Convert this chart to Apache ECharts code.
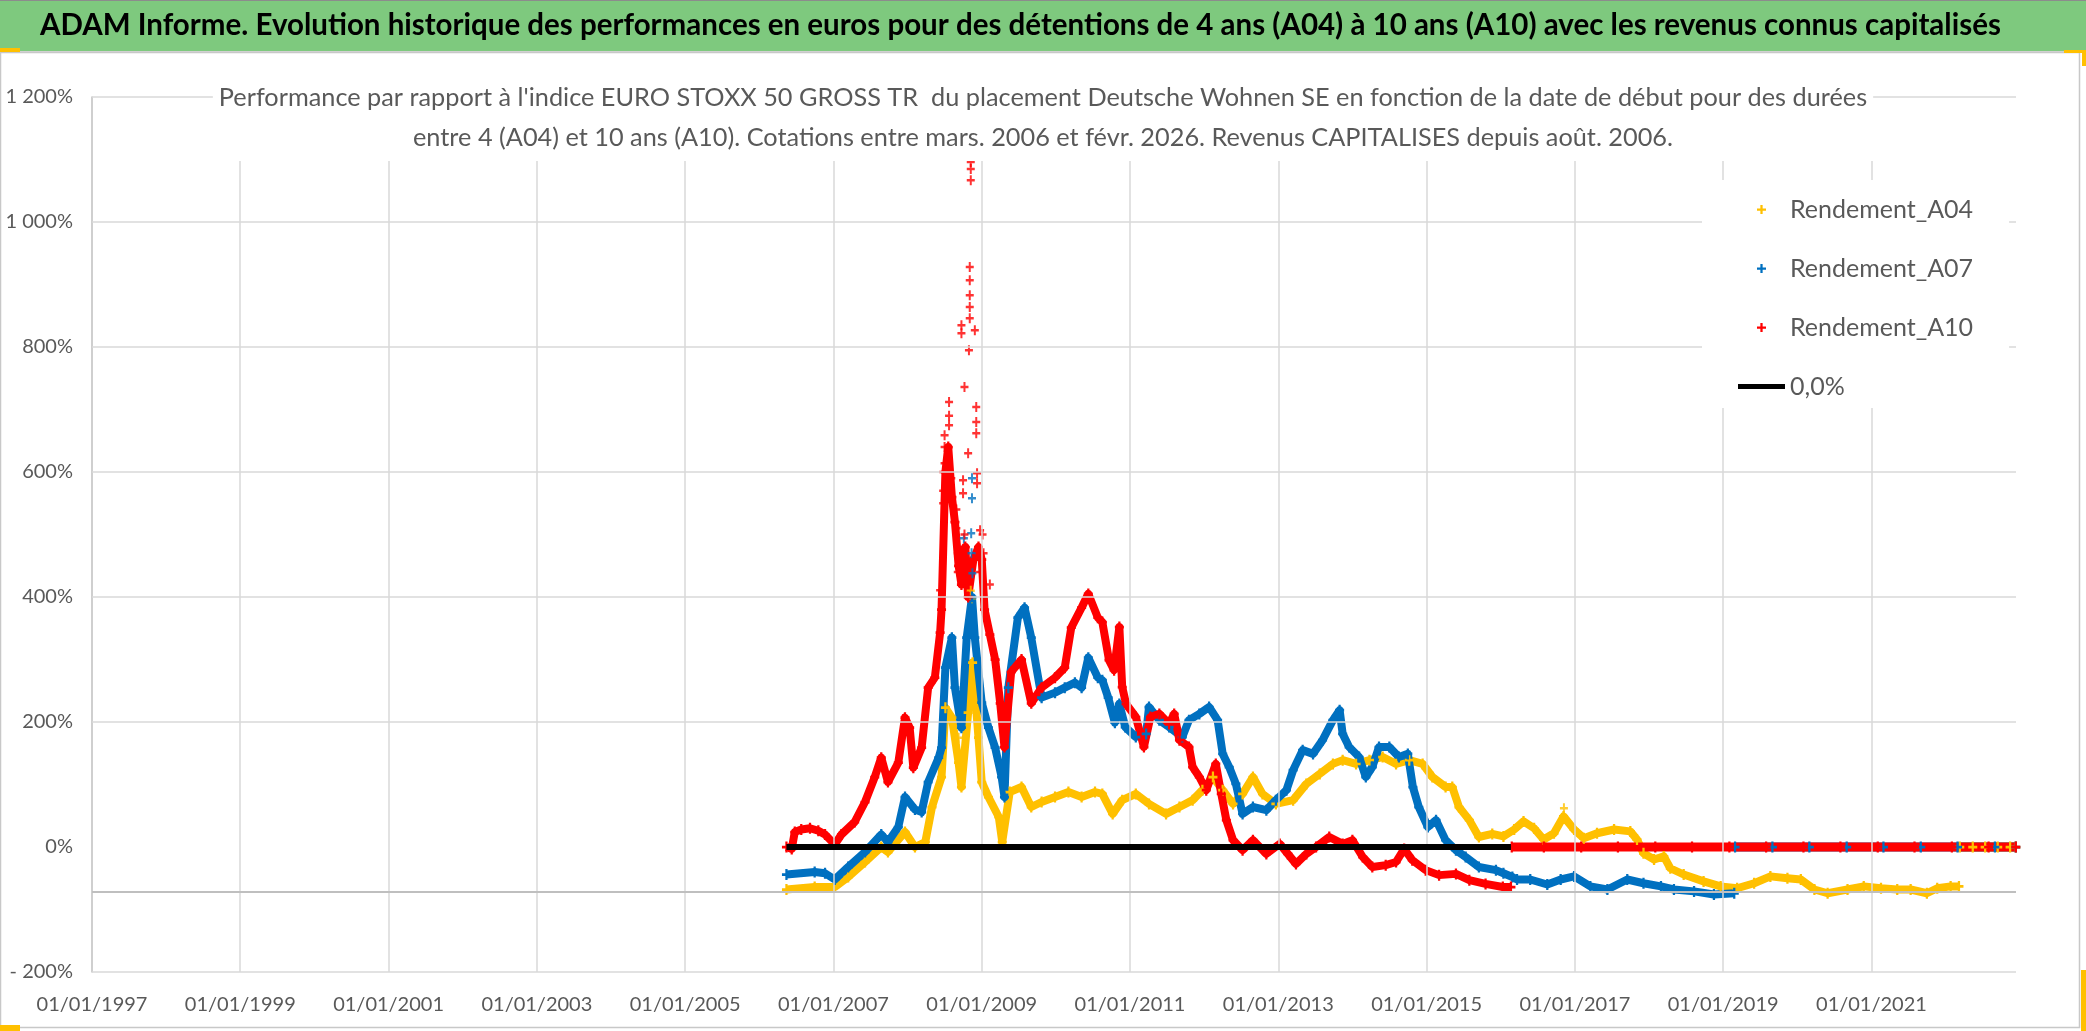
<!DOCTYPE html>
<html><head><meta charset="utf-8">
<script src="https://cdn.jsdelivr.net/npm/echarts@6/dist/echarts.min.js"></script>
<style>html,body{margin:0;padding:0;background:#fff}#c{width:2086px;height:1031px}</style>
</head><body><div id="c"></div>
<script>
const FONT = "Lato,'Liberation Sans',sans-serif";
const mainTitle = "ADAM Informe. Evolution historique des performances en euros pour des détentions de 4 ans (A04) à 10 ans (A10) avec les revenus connus capitalisés";
const subTitleLines = [
  "Performance par rapport à l'indice EURO STOXX 50 GROSS TR  du placement Deutsche Wohnen SE en fonction de la date de début pour des durées",
  "entre 4 (A04) et 10 ans (A10). Cotations entre mars. 2006 et févr. 2026. Revenus CAPITALISES depuis août. 2006."
];
const seriesNames = ['Rendement_A04', 'Rendement_A07', 'Rendement_A10', '0,0%'];
const seriesColors = ['#FFC000', '#0070C0', '#FF0000', '#000000'];
const xTickLabels = ['01/01/1997','01/01/1999','01/01/2001','01/01/2003','01/01/2005','01/01/2007','01/01/2009','01/01/2011','01/01/2013','01/01/2015','01/01/2017','01/01/2019','01/01/2021'];
const xRange = ['1997-01-01', '2022-12-14'];
const yMin = -200, yMax = 1200, yStep = 200;
const yGridValues = [-200, 200, 400, 600, 800, 1000, 1200];
const xAxisCrossValue = -72;

// Rendement_A04 (yellow)
const a04Band = [
 ['2006-05-15',-68],['2006-10-01',-64],['2007-01-08',-64],['2007-03-15',-48],['2007-06-06',-24],
 ['2007-08-25',0],['2007-09-27',-8],['2007-12-20',24],['2008-02-07',0],['2008-03-29',8],
 ['2008-05-01',64],['2008-06-17',112],['2008-07-06',223],['2008-08-07',207],['2008-09-09',135],
 ['2008-09-23',96],['2008-10-26',215],['2008-11-17',295],['2008-12-16',175],['2009-01-01',104],
 ['2009-02-03',80],['2009-03-26',48],['2009-04-12',8],['2009-05-19',88],['2009-07-16',96],
 ['2009-09-02',64],['2009-10-23',72],['2009-12-28',80],['2010-03-04',88],['2010-05-08',80],
 ['2010-07-13',88],['2010-08-18',85],['2010-10-08',53],['2010-11-24',75],['2011-01-30',85],
 ['2011-04-05',69],['2011-06-28',53],['2011-09-02',64],['2011-11-06',75],['2011-12-24',91],
 ['2012-02-14',112],['2012-04-02',91],['2012-05-23',69],['2012-07-09',85],['2012-08-29',112],
 ['2012-10-15',85],['2012-12-20',69],['2013-03-15',75],['2013-05-19',101],['2013-07-24',117],
 ['2013-09-27',133],['2013-11-14',139],['2014-01-19',133],['2014-03-26',139],['2014-05-30',144],
 ['2014-08-04',133],['2014-10-08',139],['2014-12-13',133],['2015-01-30',112],['2015-04-05',96],
 ['2015-05-08',96],['2015-06-10',64],['2015-07-31',43],['2015-09-16',16],['2015-11-21',21],
 ['2016-01-15',17],['2016-03-08',28],['2016-04-23',41],['2016-06-14',30],['2016-07-31',12],
 ['2016-09-20',22],['2016-11-06',49],['2016-12-28',28],['2017-02-14',14],['2017-04-20',22],
 ['2017-07-13',28],['2017-10-01',25],['2017-11-03',12],['2017-12-05',-10],['2018-01-26',-20],
 ['2018-03-15',-15],['2018-04-16',-34],['2018-06-21',-44],['2018-09-27',-55],['2018-12-20',-63],
 ['2019-03-11',-66],['2019-06-03',-58],['2019-08-22',-47],['2019-11-14',-50],['2020-01-19',-52],
 ['2020-03-26',-68],['2020-05-30',-74],['2020-09-05',-68],['2020-11-24',-63],['2021-02-17',-66],
 ['2021-05-08',-68],['2021-07-13',-68],['2021-10-01',-74],['2021-11-21',-66],['2022-01-26',-63],
 ['2022-03-08',-63]
];
const a04Points = [['2008-11-14',398],['2008-11-08',410],['2008-09-09',175],['2016-11-08',62]];
const a04Zero = [['2022-03-12',0],['2022-05-15',0],['2022-07-15',0],['2022-09-15',0],['2022-11-15',0],['2022-12-13',0]];

// Rendement_A07 (blue)
const a07Band = [
 ['2006-05-15',-44],['2006-10-01',-40],['2006-11-21',-42],['2007-01-08',-52],['2007-03-15',-32],
 ['2007-06-06',-8],['2007-08-25',20],['2007-09-27',8],['2007-11-17',32],['2007-12-20',80],
 ['2008-02-07',60],['2008-03-11',56],['2008-04-12',104],['2008-06-03',143],['2008-06-17',159],
 ['2008-07-06',287],['2008-08-07',335],['2008-08-22',255],['2008-09-23',191],['2008-10-19',335],
 ['2008-11-14',400],['2008-11-28',335],['2009-01-01',231],['2009-02-03',191],['2009-03-08',159],
 ['2009-04-09',112],['2009-04-23',80],['2009-05-12',255],['2009-06-28',367],['2009-07-31',383],
 ['2009-09-02',335],['2009-10-23',239],['2009-12-28',247],['2010-02-14',255],['2010-04-05',263],
 ['2010-05-08',255],['2010-06-10',303],['2010-07-27',271],['2010-08-18',267],['2010-09-16',239],
 ['2010-10-19',199],['2010-11-10',229],['2010-12-09',192],['2011-01-30',176],['2011-03-22',181],
 ['2011-04-05',224],['2011-05-26',203],['2011-07-13',192],['2011-09-16',176],['2011-10-19',203],
 ['2011-12-09',213],['2012-01-26',224],['2012-03-08',203],['2012-04-02',149],['2012-05-04',128],
 ['2012-06-06',101],['2012-07-09',53],['2012-08-29',64],['2012-11-03',59],['2012-12-20',75],
 ['2013-02-10',91],['2013-03-15',123],['2013-05-01',155],['2013-06-21',149],['2013-08-07',171],
 ['2013-09-27',203],['2013-10-30',219],['2013-11-14',181],['2013-12-16',160],['2014-02-03',144],
 ['2014-03-08',112],['2014-04-09',128],['2014-05-12',160],['2014-07-02',160],['2014-08-18',144],
 ['2014-10-01',149],['2014-10-26',96],['2014-11-24',64],['2015-01-08',32],['2015-02-17',43],
 ['2015-04-05',11],['2015-05-26',-5],['2015-07-13',-16],['2015-09-16',-32],['2015-12-09',-37],
 ['2016-01-15',-42],['2016-02-28',-48],['2016-03-22',-52],['2016-05-26',-52],['2016-08-18',-60],
 ['2016-10-23',-52],['2016-12-28',-47],['2017-03-18',-63],['2017-06-10',-68],['2017-09-16',-52],
 ['2017-12-05',-58],['2018-03-01',-63],['2018-05-04',-68],['2018-08-11',-71],['2018-11-17',-76],
 ['2019-02-25',-74]
];
const a07Points = [['2008-11-14',590],['2008-11-14',558],['2008-11-10',502],['2008-11-12',470],['2008-11-16',438],['2008-10-05',494]];
const a07Zero = [['2019-03-01',0],['2019-09-01',0],['2020-03-01',0],['2020-09-01',0],['2021-03-01',0],['2021-09-01',0],['2022-03-01',0],['2022-09-01',0],['2022-12-13',0]];

// Rendement_A10 (red)
const a10Band = [
 ['2006-05-15',0],['2006-06-10',-3],['2006-06-25',24],['2006-07-27',28],['2006-09-08',30],
 ['2006-10-19',26],['2006-11-21',20],['2007-01-08',4],['2007-02-10',20],['2007-04-16',40],
 ['2007-06-06',72],['2007-07-24',112],['2007-08-25',143],['2007-09-27',104],['2007-11-17',135],
 ['2007-12-20',207],['2008-01-12',191],['2008-01-30',127],['2008-03-11',159],['2008-04-12',255],
 ['2008-05-15',271],['2008-06-10',343],['2008-06-17',380],['2008-07-06',600],['2008-07-20',640],
 ['2008-08-07',560],['2008-08-22',520],['2008-09-09',450],['2008-09-23',420],['2008-10-12',480],
 ['2008-10-26',400],['2008-11-21',460],['2008-12-16',480],['2009-01-01',460],['2009-01-15',380],
 ['2009-02-10',340],['2009-03-08',300],['2009-04-02',230],['2009-04-23',160],['2009-05-26',280],
 ['2009-07-16',300],['2009-09-02',230],['2009-10-23',255],['2009-12-28',271],['2010-02-14',287],
 ['2010-03-18',351],['2010-05-08',383],['2010-06-10',405],['2010-07-27',367],['2010-08-18',360],
 ['2010-09-20',299],['2010-10-15',283],['2010-11-10',352],['2010-11-24',256],['2010-12-13',229],
 ['2011-01-30',208],['2011-03-11',160],['2011-04-12',208],['2011-05-26',213],['2011-07-13',197],
 ['2011-08-07',213],['2011-09-02',171],['2011-10-19',160],['2011-11-06',128],['2011-12-09',112],
 ['2012-01-12',91],['2012-02-28',133],['2012-03-26',85],['2012-04-20',43],['2012-05-23',11],
 ['2012-07-09',-5],['2012-08-29',11],['2012-11-03',-11],['2013-01-08',5],['2013-02-17',-11],
 ['2013-03-29',-27],['2013-05-19',-11],['2013-07-06',0],['2013-09-09',16],['2013-11-14',5],
 ['2014-01-01',11],['2014-02-21',-16],['2014-04-09',-32],['2014-06-14',-29],['2014-08-04',-24],
 ['2014-09-13',-3],['2014-10-23',-21],['2014-12-28',-37],['2015-03-04',-45],['2015-05-26',-43],
 ['2015-07-31',-53],['2015-10-19',-59],['2016-01-12',-64],['2016-02-21',-64]
];
const a10Points = [
 ['2008-11-08',1096],['2008-11-08',1085],['2008-11-08',1067],['2008-11-03',928],['2008-11-03',907],
 ['2008-11-03',883],['2008-11-03',864],['2008-11-03',846],['2008-09-23',835],['2008-09-23',822],
 ['2008-11-28',827],['2008-10-30',795],['2008-10-08',736],['2008-07-24',712],['2008-07-24',690],
 ['2008-07-24',675],['2008-12-05',704],['2008-12-05',680],['2008-12-05',662],['2008-07-02',659],
 ['2008-07-02',640],['2008-07-02',614],['2008-10-26',630],['2008-06-25',600],['2008-06-25',570],
 ['2008-06-25',550],['2008-08-04',590],['2008-08-04',560],['2008-10-01',587],['2008-10-01',566],
 ['2008-12-09',598],['2008-12-09',582],['2008-08-29',540],['2008-08-29',510],['2008-10-08',500],
 ['2008-12-24',507],['2008-12-24',470],['2008-12-24',440],['2008-09-05',470],['2008-09-05',440],
 ['2008-06-10',411],['2009-01-05',500],['2009-01-10',470],['2009-02-10',420]
];
const a10Zero = [['2016-02-25',0],['2016-08-01',0],['2017-02-01',0],['2017-08-01',0],['2018-02-01',0],['2018-08-01',0],['2019-02-01',0],['2019-08-01',0],['2020-02-01',0],['2020-08-01',0],['2021-02-01',0],['2021-08-01',0],['2022-02-01',0],['2022-08-01',0],['2022-12-13',0]];

// 0,0% reference line
const zeroLine = [['2006-05-15',0],['2016-02-21',0]];

const DAY = 86400000;
const t = s => Date.parse(s);
const conv = arr => arr.map(d => [t(d[0]), d[1]]);
const parseTick = s => { const p = s.split('/'); return Date.UTC(+p[2], +p[1]-1, +p[0]); };
const xTicksMs = xTickLabels.map(parseTick);
const PLUS = 'path://M3,0H5V3H8V5H5V8H3V5H0V3H3Z';
const pad = n => (n < 10 ? '0' : '') + n;

function bandSeries(name, color, data) {
  return { type:'line', name, data: conv(data), symbol: PLUS, symbolSize:[9,11], showSymbol:true, showAllSymbol:true,
    lineStyle:{ color, width:8, join:'round' }, itemStyle:{ color }, z:3, silent:true, animation:false };
}
function pointSeries(name, color, data) {
  return { type:'scatter', name, data: conv(data), symbol: PLUS, symbolSize:[8,10], itemStyle:{ color }, z:3, silent:true, animation:false };
}
function zeroSeries(name, color, data) {
  return { type:'line', name, data: conv(data), symbol: PLUS, symbolSize:[9,11], showSymbol:true, showAllSymbol:true,
    lineStyle:{ color, width:9 }, itemStyle:{ color }, z:3, silent:true, animation:false };
}

const gridLineStyle = { color:'#D9D9D9', width:1.5, type:'solid' };
const markData = []
  .concat(yGridValues.map(v => ({ yAxis: v, lineStyle: gridLineStyle })))
  .concat(xTicksMs.slice(1).map(v => ({ xAxis: v, lineStyle: gridLineStyle })))
  .concat([{ yAxis: xAxisCrossValue, lineStyle: { color:'#BFBFBF', width:2, type:'solid' } }]);

const chart = echarts.init(document.getElementById('c'), null, { renderer:'canvas' });
chart.setOption({
  animation:false,
  backgroundColor:'#FFFFFF',
  textStyle:{ fontFamily: FONT },
  graphic:[
    { type:'rect', z:0, shape:{ x:0, y:0, width:2086, height:51 }, style:{ fill:'#7EC97E' } },
    { type:'rect', z:0, shape:{ x:0, y:0, width:2086, height:1 }, style:{ fill:'#8C8C8C' } },
    { type:'rect', z:0, shape:{ x:0, y:51, width:2086, height:2 }, style:{ fill:'#D4D4D4' } },
    { type:'rect', z:0, shape:{ x:0.5, y:52.5, width:2079, height:975 }, style:{ fill:null, stroke:'#C8C8C8', lineWidth:1.5 } },
    { type:'rect', z:0, shape:{ x:0, y:48, width:20, height:4 }, style:{ fill:'#FFC000' } },
    { type:'rect', z:0, shape:{ x:2064, y:50, width:22, height:3 }, style:{ fill:'#FFC000' } },
    { type:'rect', z:0, shape:{ x:2082, y:50, width:4, height:16 }, style:{ fill:'#FFC000' } },
    { type:'rect', z:0, shape:{ x:2081, y:970, width:5, height:61 }, style:{ fill:'#FFC000' } },
    { type:'rect', z:0, shape:{ x:0, y:1025, width:20, height:6 }, style:{ fill:'#FFC000' } }
  ],
  title:[
    { text: mainTitle, left:40, top:10, padding:0, z:10,
      textStyle:{ fontFamily: FONT, fontSize:29.5, fontWeight:'bold', color:'#000000' } },
    { text: subTitleLines.join('\n'), left:'center', top:75, padding:[3,6,3,6], z:10, backgroundColor:'#FFFFFF',
      textStyle:{ fontFamily: FONT, fontSize:25.3, fontWeight:'normal', color:'#595959', lineHeight:40 } }
  ],
  legend:{
    orient:'vertical', left:1702, top:180, padding:[17,36,9,36], itemGap:34, itemWidth:47, itemHeight:9,
    backgroundColor:'#FFFFFF', selectedMode:false, z:8,
    textStyle:{ fontFamily: FONT, fontSize:25, color:'#595959' },
    data:[
      { name: seriesNames[0], icon: PLUS, itemStyle:{ color: seriesColors[0] } },
      { name: seriesNames[1], icon: PLUS, itemStyle:{ color: seriesColors[1] } },
      { name: seriesNames[2], icon: PLUS, itemStyle:{ color: seriesColors[2] } },
      { name: seriesNames[3], icon: 'path://M0,0H47V5H0Z', itemStyle:{ color: seriesColors[3] } }
    ]
  },
  grid:{ left:92, right:70, top:97, bottom:59, containLabel:false },
  xAxis:{
    type:'value', min: t(xRange[0]), max: t(xRange[1]), interval: 730.5*DAY,
    axisLine:{ show:false }, axisTick:{ show:false }, splitLine:{ show:false },
    axisLabel:{ show:true, showMaxLabel:false, margin:23, color:'#595959', fontSize:20, fontFamily: FONT,
      formatter: v => { const d = new Date(Math.floor(v / DAY) * DAY); return pad(d.getUTCDate()) + '/' + pad(d.getUTCMonth()+1) + '/' + d.getUTCFullYear(); } }
  },
  yAxis:{
    type:'value', min:yMin, max:yMax, interval:yStep,
    axisLine:{ show:true, lineStyle:{ color:'#BFBFBF', width:1.5 } }, axisTick:{ show:false }, splitLine:{ show:false },
    axisLabel:{ margin:19, color:'#595959', fontSize:20, fontFamily: FONT,
      formatter: v => { const s = String(Math.abs(v)); const g = s.length > 3 ? s.slice(0,-3) + ' ' + s.slice(-3) : s; return (v < 0 ? '- ' : '') + g + '%'; } }
  },
  series:[
    { type:'line', name:'grid', data:[], z:1, silent:true,
      markLine:{ silent:true, symbol:['none','none'], label:{ show:false }, animation:false, data: markData } },
    bandSeries(seriesNames[0], seriesColors[0], a04Band),
    pointSeries(seriesNames[0], seriesColors[0], a04Points),
    zeroSeries(seriesNames[0], seriesColors[0], a04Zero),
    bandSeries(seriesNames[1], seriesColors[1], a07Band),
    pointSeries(seriesNames[1], seriesColors[1], a07Points),
    zeroSeries(seriesNames[1], seriesColors[1], a07Zero),
    bandSeries(seriesNames[2], seriesColors[2], a10Band),
    pointSeries(seriesNames[2], seriesColors[2], a10Points),
    zeroSeries(seriesNames[2], seriesColors[2], a10Zero),
    { type:'line', name: seriesNames[3], data: conv(zeroLine), showSymbol:false, symbol:'none',
      lineStyle:{ color:'#000000', width:6 }, itemStyle:{ color:'#000000' }, z:5, silent:true, animation:false }
  ]
});
</script></body></html>
